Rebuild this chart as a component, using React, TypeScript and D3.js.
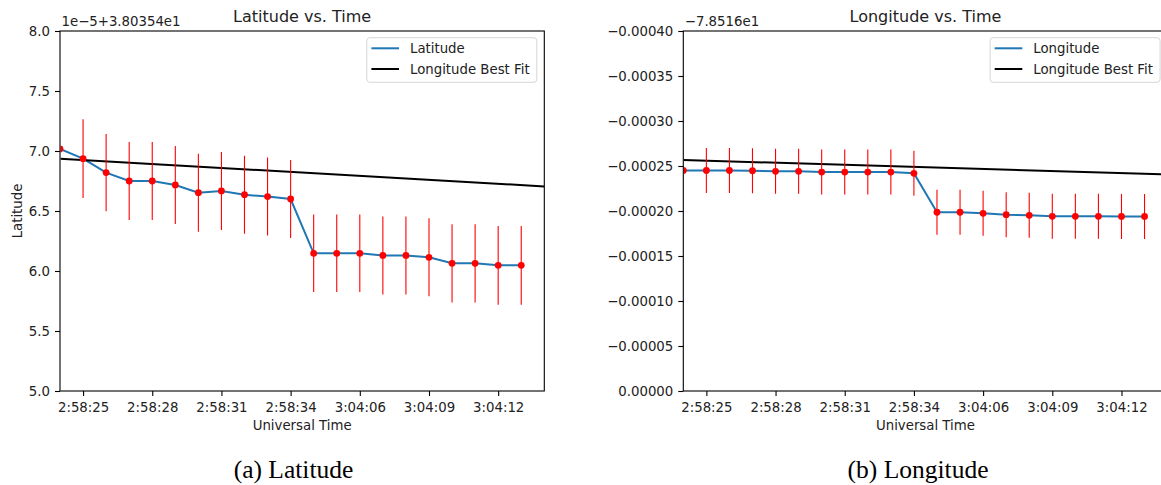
import { useRef, useEffect } from 'react';
import * as d3 from 'd3';

const times = [
  '2:58:24', '2:58:25', '2:58:26', '2:58:27', '2:58:28', '2:58:29', '2:58:30',
  '2:58:31', '2:58:32', '2:58:33', '2:58:34',
  '3:04:04', '3:04:05', '3:04:06', '3:04:07', '3:04:08', '3:04:09', '3:04:10',
  '3:04:11', '3:04:12', '3:04:13',
];

// latitude, shown as offset from 3.80354e1 in units of 1e-5
const latValues = [
  7.017, 6.936, 6.82, 6.75, 6.75, 6.717, 6.653, 6.667, 6.636, 6.62, 6.6,
  6.147, 6.147, 6.147, 6.13, 6.13, 6.114, 6.064, 6.064, 6.047, 6.047,
];
const latErrors = [
  0.33, 0.328, 0.322, 0.325, 0.325, 0.325, 0.325, 0.325, 0.325, 0.325, 0.325,
  0.323, 0.323, 0.323, 0.325, 0.325, 0.325, 0.326, 0.326, 0.328, 0.328,
];
const latFitX = [0, 21];
const latFitY = [6.935, 6.705];
const latTicks = [5.0, 5.5, 6.0, 6.5, 7.0, 7.5, 8.0];

// longitude, shown as offset from -7.8516e1
const lonValues = [
  -0.000245, -0.000245, -0.000245, -0.0002447, -0.0002441, -0.0002441, -0.0002433,
  -0.0002433, -0.0002433, -0.0002433, -0.0002419,
  -0.0001986, -0.0001986, -0.0001974, -0.0001959, -0.0001952, -0.0001941, -0.0001941,
  -0.0001941, -0.000194, -0.000194,
];
const lonErrors = [
  0.000025, 0.000025, 0.000025, 0.000025, 0.000025, 0.000025, 0.000025,
  0.000025, 0.000025, 0.000025, 0.000025,
  0.000025, 0.000025, 0.000025, 0.000025, 0.000025, 0.000025, 0.000025,
  0.000025, 0.000025, 0.000025,
];
const lonFitX = [0, 21];
const lonFitY = [-0.0002567, -0.0002405];
const lonTicks = [0, -0.00005, -0.0001, -0.00015, -0.0002, -0.00025, -0.0003, -0.00035, -0.0004];

const FONT = 'DejaVu Sans';

type Panel = {
  left: number;
  right: number;
  title: string;
  offsetText: string;
  yLabel: string | null;
  yDomain: [number, number];
  yTicks: number[];
  yFormat: (v: number) => string;
  values: number[];
  errors: number[];
  fitX: number[];
  fitY: number[];
  legend: string[];
  caption: string;
  captionX: number;
};

export default function App() {
  const svgRef = useRef<SVGSVGElement>(null);

  useEffect(() => {
    const top = 31;
    const bottom = 391;
    const svg = d3.select(svgRef.current);
    svg.selectAll('*').remove();

    const panels: Panel[] = [
      {
        left: 60,
        right: 544.3,
        title: 'Latitude vs. Time',
        offsetText: '1e\u22125+3.80354e1',
        yLabel: 'Latitude',
        yDomain: [5, 8],
        yTicks: latTicks,
        yFormat: d3.format('.1f'),
        values: latValues,
        errors: latErrors,
        fitX: latFitX,
        fitY: latFitY,
        legend: ['Latitude', 'Longitude Best Fit'],
        caption: '(a) Latitude',
        captionX: 293.5,
      },
      {
        left: 683.3,
        right: 1167.6,
        title: 'Longitude vs. Time',
        offsetText: '\u22127.8516e1',
        yLabel: null,
        yDomain: [0, -0.0004],
        yTicks: lonTicks,
        yFormat: d3.format('.5f'),
        values: lonValues,
        errors: lonErrors,
        fitX: lonFitX,
        fitY: lonFitY,
        legend: ['Longitude', 'Longitude Best Fit'],
        caption: '(b) Longitude',
        captionX: 918,
      },
    ];

    panels.forEach((p) => {
      const g = svg.append('g');
      const x = d3.scaleLinear().domain([0, 21]).range([p.left, p.right]);
      const y = d3.scaleLinear().domain(p.yDomain).range([bottom, top]);

      const clipId = `clip-${Math.round(p.left)}`;
      g.append('clipPath')
        .attr('id', clipId)
        .append('rect')
        .attr('x', p.left + 0.6)
        .attr('y', top)
        .attr('width', p.right - p.left)
        .attr('height', bottom - top);
      const clipErrId = `clip-err-${Math.round(p.left)}`;
      g.append('clipPath')
        .attr('id', clipErrId)
        .append('rect')
        .attr('x', p.left + 1.2)
        .attr('y', top)
        .attr('width', p.right - p.left)
        .attr('height', bottom - top);

      const plot = g.append('g').attr('clip-path', `url(#${clipId})`);
      const idx = d3.range(p.values.length);

      const line = d3
        .line<number>()
        .x((i) => x(i))
        .y((i) => y(p.values[i]));
      plot
        .append('path')
        .attr('d', line(idx))
        .attr('fill', 'none')
        .attr('stroke', '#1f77b4')
        .attr('stroke-width', 2);

      const fit = d3
        .line<number>()
        .x((i) => x(p.fitX[i]))
        .y((i) => y(p.fitY[i]));
      plot
        .append('path')
        .attr('d', fit(d3.range(p.fitX.length)))
        .attr('fill', 'none')
        .attr('stroke', '#000')
        .attr('stroke-width', 2);

      g.append('g')
        .attr('clip-path', `url(#${clipErrId})`)
        .selectAll('.err')
        .data(idx)
        .join('line')
        .attr('class', 'err')
        .attr('x1', (i) => x(i))
        .attr('x2', (i) => x(i))
        .attr('y1', (i) => y(p.values[i] - p.errors[i]))
        .attr('y2', (i) => y(p.values[i] + p.errors[i]))
        .attr('stroke', 'red')
        .attr('stroke-width', 1.1);

      g.append('g')
        .attr('clip-path', `url(#${clipId})`)
        .selectAll('.pt')
        .data(idx)
        .join('circle')
        .attr('class', 'pt')
        .attr('cx', (i) => x(i))
        .attr('cy', (i) => y(p.values[i]))
        .attr('r', 3.4)
        .attr('fill', 'red');

      // frame
      g.append('rect')
        .attr('x', p.left)
        .attr('y', top)
        .attr('width', p.right - p.left)
        .attr('height', bottom - top)
        .attr('fill', 'none')
        .attr('stroke', '#000')
        .attr('stroke-width', 1.1);

      const xAxis = d3
        .axisBottom(x)
        .tickValues(idx.filter((i) => i % 3 === 1))
        .tickFormat((i) => times[i as number])
        .tickSize(5)
        .tickSizeOuter(0)
        .tickPadding(6.5);
      const xg = g.append('g').attr('transform', `translate(0,${bottom})`).call(xAxis);

      const yAxis = d3
        .axisLeft(y)
        .tickValues(p.yTicks)
        .tickFormat((v) => p.yFormat(v as number))
        .tickSize(5)
        .tickSizeOuter(0)
        .tickPadding(5);
      const yg = g.append('g').attr('transform', `translate(${p.left},0)`).call(yAxis);

      [xg, yg].forEach((ax) => {
        ax.select('.domain').remove();
        ax.selectAll('.tick line').attr('stroke', '#000').attr('stroke-width', 1.1);
        ax.selectAll('.tick text')
          .attr('fill', '#222')
          .style('font-family', FONT)
          .style('font-size', '13.3px');
      });

      const cx = (p.left + p.right) / 2;
      g.append('text')
        .attr('x', cx)
        .attr('y', 22)
        .attr('text-anchor', 'middle')
        .style('font-family', FONT)
        .style('font-size', '16px')
        .attr('fill', '#222')
        .text(p.title);

      g.append('text')
        .attr('x', p.left + 1.5)
        .attr('y', 25.5)
        .style('font-family', FONT)
        .style('font-size', '13.3px')
        .attr('fill', '#222')
        .text(p.offsetText);

      g.append('text')
        .attr('x', cx)
        .attr('y', 430)
        .attr('text-anchor', 'middle')
        .style('font-family', FONT)
        .style('font-size', '13.3px')
        .attr('fill', '#222')
        .text('Universal Time');

      if (p.yLabel) {
        g.append('text')
          .attr('transform', `translate(21.5,${(top + bottom) / 2}) rotate(-90)`)
          .attr('text-anchor', 'middle')
          .style('font-family', FONT)
          .style('font-size', '13.3px')
          .attr('fill', '#222')
          .text(p.yLabel);
      }

      // legend
      const lw = 170;
      const lh = 44.6;
      const lx = p.right - 7.5 - lw;
      const ly = top + 6.7;
      const lg = g.append('g').attr('transform', `translate(${lx},${ly})`);
      lg.append('rect')
        .attr('width', lw)
        .attr('height', lh)
        .attr('rx', 3)
        .attr('fill', 'rgba(255,255,255,0.8)')
        .attr('stroke', '#d6d6d6')
        .attr('stroke-width', 1);
      const colors = ['#1f77b4', '#000'];
      p.legend.forEach((label, k) => {
        const ry = 10.6 + k * 20.7;
        lg.append('line')
          .attr('x1', 4.6)
          .attr('x2', 32.2)
          .attr('y1', ry)
          .attr('y2', ry)
          .attr('stroke', colors[k])
          .attr('stroke-width', 2);
        lg.append('text')
          .attr('x', 43.2)
          .attr('y', ry + 4.8)
          .style('font-family', FONT)
          .style('font-size', '13.3px')
          .attr('fill', '#222')
          .text(label);
      });

      svg
        .append('text')
        .attr('x', p.captionX)
        .attr('y', 478.3)
        .attr('text-anchor', 'middle')
        .style('font-family', 'Liberation Serif')
        .style('font-size', '25.5px')
        .attr('fill', '#000')
        .text(p.caption);
    });
  }, []);

  return (
    <svg
      ref={svgRef}
      width={1161}
      height={485}
      style={{ position: 'absolute', left: 0, top: 0, background: '#fff' }}
    />
  );
}
